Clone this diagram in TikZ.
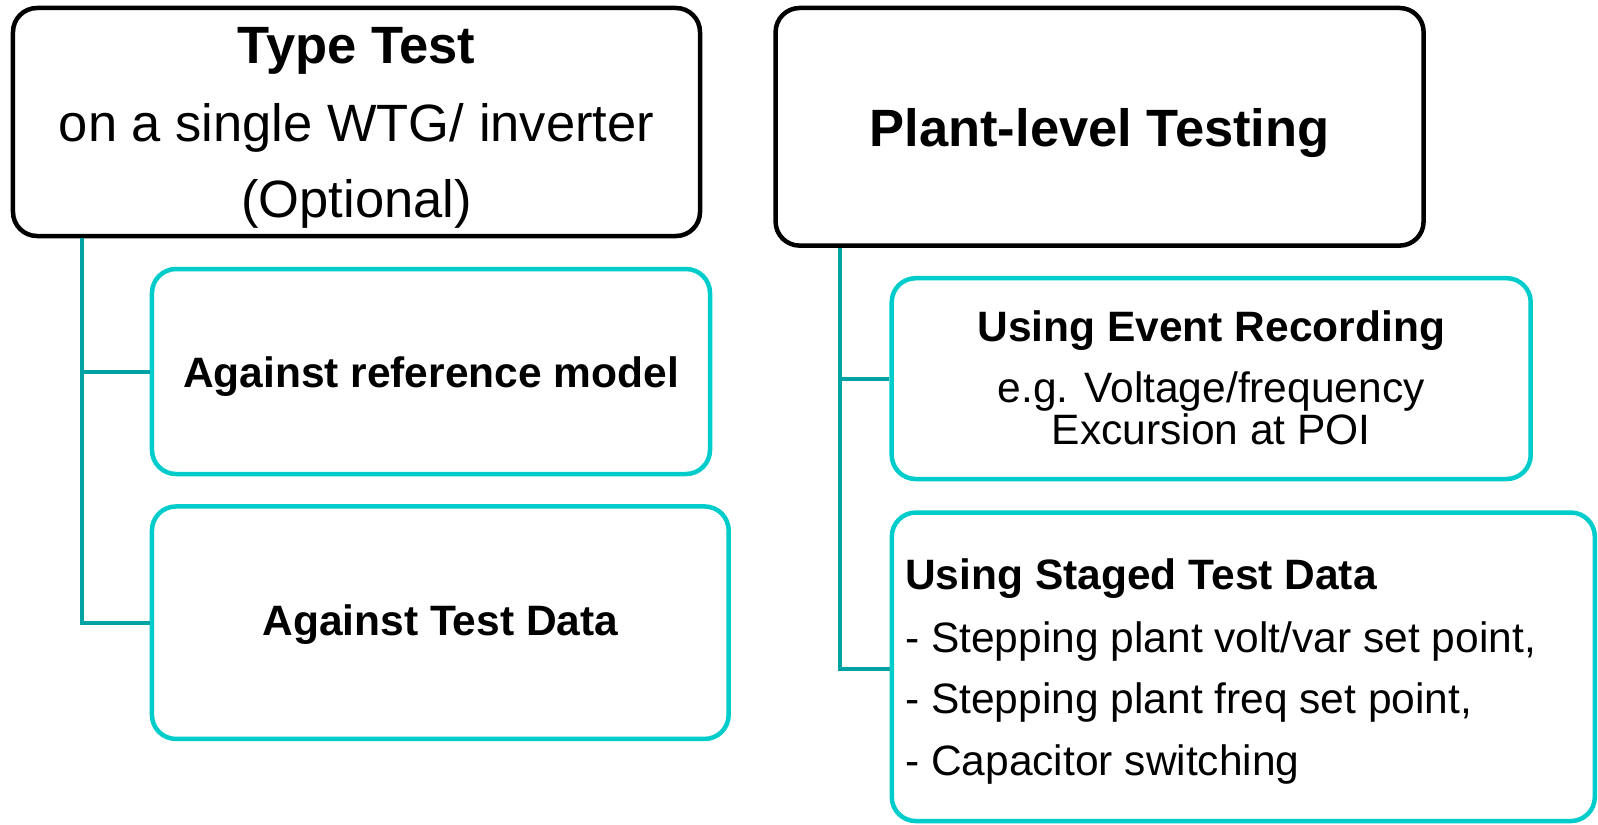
\documentclass[tikz,border=0pt]{standalone}
\usepackage{fontspec}
\setmainfont{Liberation Sans}
\definecolor{boxcyan}{HTML}{00CCCC}
\definecolor{linkteal}{HTML}{00A3A3}
\tikzset{
  mainbox/.style={draw=black, line width=4.5bp, rounded corners=24bp, inner sep=0pt, fill=white},
  subbox/.style={draw=boxcyan, line width=4.5bp, rounded corners=24bp, inner sep=0pt, fill=white},
  link/.style={draw=linkteal, line width=4bp},
  bigtxt/.style={font=\fontsize{52.5bp}{63bp}\selectfont, inner sep=0pt, anchor=base},
  bigbold/.style={font=\fontsize{52.5bp}{63bp}\selectfont\bfseries, inner sep=0pt, anchor=base},
  smalltxt/.style={font=\fontsize{42.5bp}{51bp}\selectfont, inner sep=0pt, anchor=base},
  smallbold/.style={font=\fontsize{42.5bp}{51bp}\selectfont\bfseries, inner sep=0pt, anchor=base}
}
\begin{document}
\begin{tikzpicture}[x=1bp,y=-1bp]
\useasboundingbox (0,0) rectangle (1598,824);
\clip (0,0) rectangle (1598,824);
% boxes
\node[mainbox, minimum width=687bp, minimum height=228bp] (typetest) at (356.5,122) {};
\node[mainbox, minimum width=648bp, minimum height=237.6bp] (plant) at (1099.6,126.8) {};
\node[subbox, minimum width=558bp, minimum height=205bp] (refmodel) at (431,371.5) {};
\node[subbox, minimum width=576.7bp, minimum height=232.5bp] (testdata) at (440.3,622.7) {};
\node[subbox, minimum width=639bp, minimum height=200.8bp] (event) at (1211.2,378.6) {};
\node[subbox, minimum width=703bp, minimum height=308.5bp] (staged) at (1243.3,666.8) {};
% connectors
\coordinate (trunkL) at (81.5,622.7);
\coordinate (trunkR) at (839.8,668.5);
\draw[link] (typetest.south -| trunkL) -- (trunkL) -- (testdata.west |- trunkL);
\draw[link] (refmodel.west) -- (refmodel.west -| trunkL);
\draw[link] (plant.south -| trunkR) -- (trunkR) -- (staged.west |- trunkR);
\draw[link] (event.west) -- (event.west -| trunkR);
% texts
\node[bigbold] (t1) at (356.5,63) {Type Test};
\node[bigtxt] (t2) at (356.5,141) {on a single WTG/ inverter};
\node[bigtxt] (t3) at (356.5,217) {(Optional)};
\node[bigbold] (t4) at (1099.6,146) {Plant-level Testing};
\node[smallbold] (t5) at (431,387) {Against reference model};
\node[smallbold] (t6) at (440.3,635) {Against Test Data};
\node[smallbold] (t7) at (1211.2,341) {Using Event Recording};
\node[smalltxt] (t8) at (1211.2,402) {e.g. Voltage/frequency};
\node[smalltxt] (t9) at (1211.2,444) {Excursion at POI};
\node[smallbold, anchor=base west] (t10) at (905,589) {Using Staged Test Data};
\node[smalltxt, anchor=base west] (t11) at (905,652) {- Stepping plant volt/var set point,};
\node[smalltxt, anchor=base west] (t12) at (905,713) {- Stepping plant freq set point,};
\node[smalltxt, anchor=base west] (t13) at (905,775) {- Capacitor switching};
\end{tikzpicture}
\end{document}
